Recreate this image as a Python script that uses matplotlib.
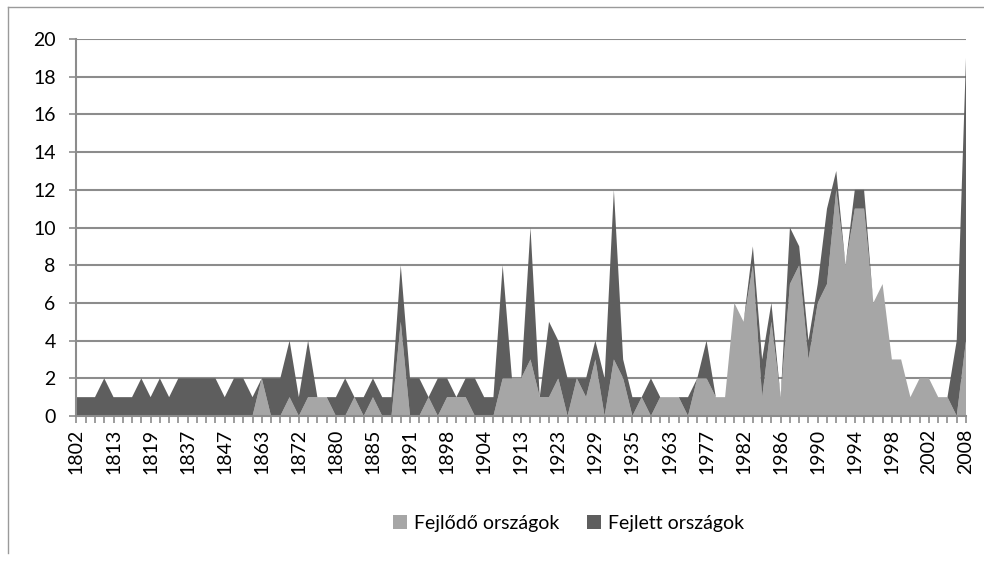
import matplotlib
matplotlib.use("Agg")
import matplotlib.pyplot as plt
from matplotlib.patches import Patch
from matplotlib.lines import Line2D

years = [1802, 1807, 1810, 1811, 1813, 1814, 1815, 1818, 1819, 1820,
         1825, 1836, 1837, 1838, 1839, 1843, 1847, 1848, 1857, 1861,
         1863, 1864, 1866, 1870, 1872, 1873, 1876, 1878, 1880, 1881,
         1882, 1884, 1885, 1887, 1889, 1890, 1891, 1892, 1893, 1896,
         1898, 1899, 1900, 1901, 1904, 1905, 1907, 1908, 1913, 1914,
         1920, 1921, 1923, 1924, 1925, 1926, 1929, 1930, 1931, 1933,
         1935, 1936, 1937, 1939, 1963, 1966, 1971, 1974, 1977, 1978,
         1980, 1981, 1982, 1983, 1984, 1985, 1986, 1987, 1988, 1989,
         1990, 1991, 1992, 1993, 1994, 1995, 1996, 1997, 1998, 1999,
         2000, 2001, 2002, 2003, 2005, 2007, 2008]

# fejlődő országok (alsó réteg)
fejlodo = [0, 0, 0, 0, 0, 0, 0, 0, 0, 0,
           0, 0, 0, 0, 0, 0, 0, 0, 0, 0,
           2, 0, 0, 1, 0, 1, 1, 1, 0, 0,
           1, 0, 1, 0, 0, 5, 0, 0, 1, 0,
           1, 1, 1, 0, 0, 0, 2, 2, 2, 3,
           1, 1, 2, 0, 2, 1, 3, 0, 3, 2,
           0, 1, 0, 1, 1, 1, 0, 2, 2, 1,
           1, 6, 5, 8, 1, 5, 1, 7, 8, 3,
           6, 7, 12, 8, 11, 11, 6, 7, 3, 3,
           1, 2, 2, 1, 1, 0, 4]

# fejlett országok (felső réteg)
fejlett = [1, 1, 1, 2, 1, 1, 1, 2, 1, 2,
           1, 2, 2, 2, 2, 2, 1, 2, 2, 1,
           0, 2, 2, 3, 1, 3, 0, 0, 1, 2,
           0, 1, 1, 1, 1, 3, 2, 2, 0, 2,
           1, 0, 1, 2, 1, 1, 6, 0, 0, 7,
           0, 4, 2, 2, 0, 1, 1, 2, 9, 1,
           1, 0, 2, 0, 0, 0, 1, 0, 2, 0,
           0, 0, 0, 1, 2, 1, 0, 3, 1, 1,
           1, 4, 1, 0, 1, 1, 0, 0, 0, 0,
           0, 0, 0, 0, 0, 4, 15]

series_names = ["Fejlődő országok", "Fejlett országok"]
colors = ["#A6A6A6", "#5E5E5E"]
grid_col = "#8C8C8C"

plt.rcParams["font.family"] = ["Lato", "DejaVu Sans"]
fs = 14

fig = plt.figure(figsize=(9.84, 5.63), dpi=100)
ax = fig.add_axes([0.0777, 0.2611, 0.9040, 0.6696])

x = list(range(len(years)))
ax.stackplot(x, fejlodo, fejlett, colors=colors, linewidth=0, zorder=3)

ax.set_xlim(0, len(years) - 1)
ax.set_ylim(0, 20)
ax.set_yticks(range(0, 21, 2))
ax.yaxis.grid(True, color=grid_col, linewidth=1.5, zorder=0)
ax.set_axisbelow(True)

ax.set_xticks(x[::4])
ax.set_xticklabels([str(years[i]) for i in x[::4]], rotation=90, fontsize=fs)
ax.set_xticks(x, minor=True)
ax.tick_params(axis="x", which="both", length=5, width=1.2, color=grid_col, pad=4)
ax.tick_params(axis="y", length=5, width=1.2, color=grid_col, labelsize=fs, pad=10)

for s in ["top", "right"]:
    ax.spines[s].set_visible(False)
for s in ["left", "bottom"]:
    ax.spines[s].set_color(grid_col)
    ax.spines[s].set_linewidth(1.5)
    ax.spines[s].set_zorder(4)

handles = [Patch(facecolor=c, edgecolor="none") for c in colors]
fig.legend(handles, series_names, loc="center", bbox_to_anchor=(0.578, 0.071),
           ncol=2, frameon=False, fontsize=fs, handlelength=0.7,
           handleheight=0.7, handletextpad=0.4, columnspacing=1.4)

# chart border (partly visible in the original)
fig.add_artist(Line2D([8 / 984, 8 / 984], [1 - 7 / 563, 1 - 553 / 563],
                      color="#9A9A9A", linewidth=1, transform=fig.transFigure))
fig.add_artist(Line2D([8 / 984, 1.0], [1 - 7 / 563, 1 - 7 / 563],
                      color="#9A9A9A", linewidth=1, transform=fig.transFigure))

fig.savefig("out.png", dpi=100)
